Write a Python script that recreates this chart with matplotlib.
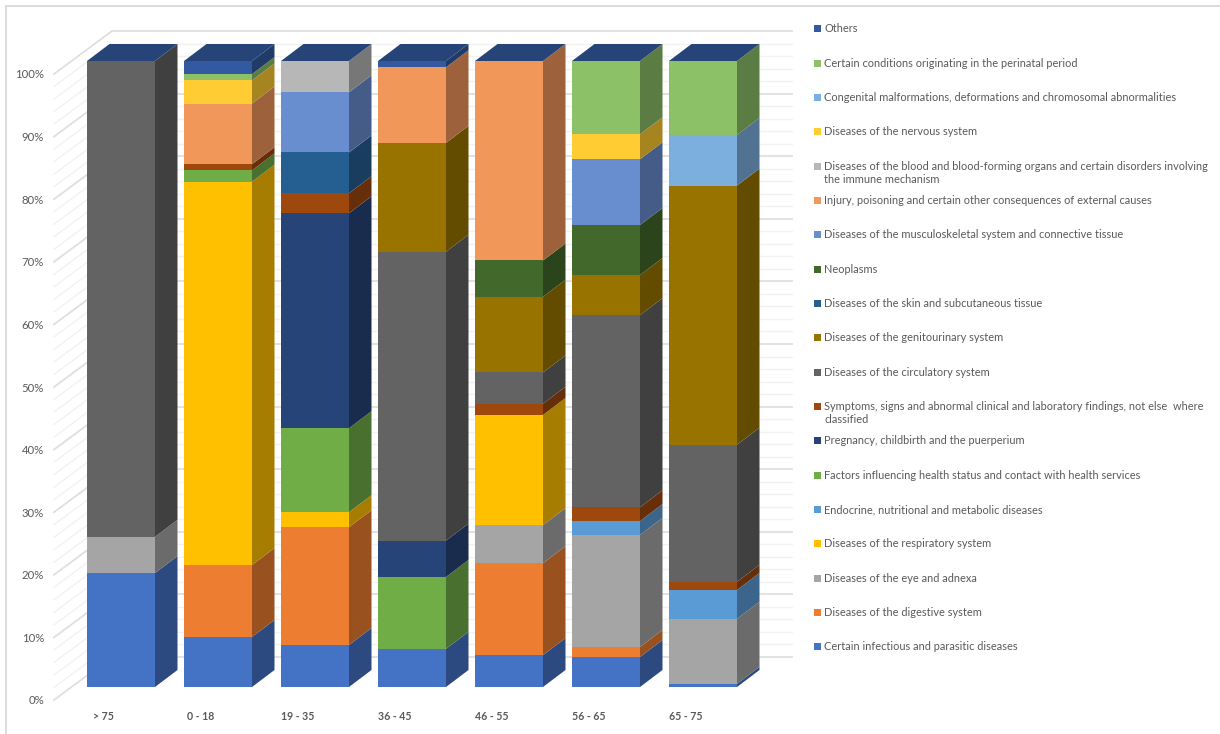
import matplotlib
matplotlib.use("Agg")
import matplotlib.pyplot as plt
from matplotlib.lines import Line2D
from matplotlib.patches import Patch, Polygon, Rectangle
from matplotlib.legend_handler import HandlerPatch
from matplotlib.transforms import ScaledTranslation
from matplotlib.colors import to_rgb

categories = ["> 75", "0 - 18", "19 - 35", "36 - 45", "46 - 55", "56 - 65", "65 - 75"]

infectious  = [18.2, 8.0, 6.7, 6.1, 5.1, 4.8, 0.5]
digestive   = [0, 11.5, 18.8, 0, 14.7, 1.6, 0]
eye         = [5.8, 0, 0, 0, 6.1, 17.9, 10.4]
respiratory = [0, 61.3, 2.4, 0, 17.6, 0, 0]
endocrine   = [0, 0, 0, 0, 0, 2.2, 4.6]
factors     = [0, 1.8, 13.4, 11.5, 0, 0, 0]
pregnancy   = [0, 0, 34.3, 5.8, 0, 0, 0]
symptoms    = [0, 1.0, 3.2, 0, 1.8, 2.2, 1.3]
circulatory = [76.0, 0, 0, 46.2, 5.0, 30.7, 21.9]
genito      = [0, 0, 0, 17.4, 12.1, 6.4, 41.4]
skin        = [0, 0, 6.5, 0, 0, 0, 0]
neoplasms   = [0, 0, 0, 0, 5.8, 8.0, 0]
musculo     = [0, 0, 9.6, 0, 0, 10.5, 0]
injury      = [0, 9.7, 0, 12.1, 31.9, 0, 0]
blood       = [0, 0, 5.0, 0, 0, 0, 0]
nervous     = [0, 3.7, 0, 0, 0, 4.0, 0]
congenital  = [0, 0, 0, 0, 0, 0, 8.1]
perinatal   = [0, 1.0, 0, 0, 0, 11.7, 11.8]
others      = [0, 2.1, 0, 1.0, 0, 0, 0]

series = [
    ("Certain infectious and parasitic diseases", infectious, "#4472C4"),
    ("Diseases of the digestive system", digestive, "#ED7D31"),
    ("Diseases of the eye and adnexa", eye, "#A5A5A5"),
    ("Diseases of the respiratory system", respiratory, "#FFC000"),
    ("Endocrine, nutritional and metabolic diseases", endocrine, "#5B9BD5"),
    ("Factors influencing health status and contact with health services", factors, "#70AD47"),
    ("Pregnancy, childbirth and the puerperium", pregnancy, "#264478"),
    ("Symptoms, signs and abnormal clinical and laboratory findings, not else  where\nclassified", symptoms, "#9E480E"),
    ("Diseases of the circulatory system", circulatory, "#636363"),
    ("Diseases of the genitourinary system", genito, "#997300"),
    ("Diseases of the skin and subcutaneous tissue", skin, "#255E91"),
    ("Neoplasms", neoplasms, "#43682B"),
    ("Diseases of the musculoskeletal system and connective tissue", musculo, "#698ED0"),
    ("Injury, poisoning and certain other consequences of external causes", injury, "#F1975A"),
    ("Diseases of the blood and blood-forming organs and certain disorders involving\nthe immune mechanism", blood, "#B7B7B7"),
    ("Diseases of the nervous system", nervous, "#FFCD33"),
    ("Congenital malformations, deformations and chromosomal abnormalities", congenital, "#7CAFDD"),
    ("Certain conditions originating in the perinatal period", perinatal, "#8CC168"),
    ("Others", others, "#335AA1"),
]

W, H = 1220, 734
TEXT = "#595959"
plt.rcParams["font.family"] = ["Lato", "DejaVu Sans"]

fig = plt.figure(figsize=(W / 100, H / 100), dpi=100, facecolor="white")
# axes box: y 0..100 maps to the front face of the bars
left_px, right_px, top_px, bottom_px = 49, 800, 61, 687
ax = fig.add_axes([left_px / W, 1 - bottom_px / H, (right_px - left_px) / W, (bottom_px - top_px) / H])
x_unit = 97.0
y_unit = (bottom_px - top_px) / 100.0
first_center = 121.0
ax.set_xlim((left_px - first_center) / x_unit, (right_px - first_center) / x_unit)
ax.set_ylim(0, 100)
ax.patch.set_alpha(0)
for s in ax.spines.values():
    s.set_visible(False)

bar_w = 68 / x_unit
dx, dy = 22.5 / x_unit, 17 / y_unit

# walls
wall_front_x = (54 - first_center) / x_unit
wall_back_x = (112 - first_center) / x_unit
wall_end_x = (792 - first_center) / x_unit
front_off = -13 / y_unit
back_off = 30 / y_unit
for v in range(0, 101, 2):
    major = v % 10 == 0
    col = "#DFDFDF" if major else "#F2F2F2"
    lw = 1.3 if major else 1.0
    ax.plot([wall_front_x, wall_back_x], [v + front_off, v + back_off], color=col, lw=lw, zorder=1 + major, clip_on=False)
    ax.plot([wall_back_x, wall_end_x], [v + back_off, v + back_off], color=col, lw=lw, zorder=1 + major, clip_on=False)


def shade(c, f=0.65):
    return tuple(f * i for i in to_rgb(c))


positions = list(range(len(categories)))
totals = [sum(s[1][i] for s in series) for i in positions]
bottoms = [0.0] * len(positions)
for name, values, color in series:
    heights = [100 * v / t for v, t in zip(values, totals)]
    ax.bar(positions, heights, bar_w, bottom=bottoms, color=color, zorder=5, linewidth=0, clip_on=False)
    for p, b, h in zip(positions, bottoms, heights):
        if h > 0:
            xr = p + bar_w / 2
            ax.add_patch(Polygon([(xr, b), (xr + dx, b + dy), (xr + dx, b + h + dy), (xr, b + h)],
                                 closed=True, facecolor=shade(color), edgecolor="none", zorder=5, clip_on=False))
    bottoms = [b + h for b, h in zip(bottoms, heights)]

for p, b in zip(positions, bottoms):
    xl, xr = p - bar_w / 2, p + bar_w / 2
    ax.add_patch(Polygon([(xl, b), (xr, b), (xr + dx, b + dy), (xl + dx, b + dy)],
                         closed=True, facecolor="#264478", edgecolor="none", zorder=6, clip_on=False))

# axis labels
ax.set_yticks(range(0, 101, 10))
ax.set_yticklabels([f"{v}%" for v in range(0, 101, 10)], fontsize=8.2, color=TEXT)
ax.set_xticks(positions)
ax.set_xticklabels(categories, fontsize=7.6, color=TEXT, fontweight="bold")
ax.tick_params(axis="both", length=0)
ax.tick_params(axis="y", pad=3.6)
ax.tick_params(axis="x", pad=17)
for lab in ax.get_yticklabels():
    lab.set_transform(lab.get_transform() + ScaledTranslation(0, -13 / 100, fig.dpi_scale_trans))
for lab in ax.get_xticklabels():
    lab.set_transform(lab.get_transform() + ScaledTranslation(-17.5 / 100, 0, fig.dpi_scale_trans))


# legend: every entry takes two lines so that first lines are evenly spaced
def first_line_square(legend, orig_handle, xdescent, ydescent, width, height, fontsize):
    return Rectangle((0, 5.6), 5.04, 5.04)


handles, labels = [], []
for name, values, color in reversed(series):
    handles.append(Patch(facecolor=color, edgecolor="none"))
    labels.append(name if "\n" in name else name + "\n ")
fs = 7.95
leg = ax.legend(handles, labels, loc="upper left", bbox_to_anchor=(814 / W, 1 - 23.5 / H),
                bbox_transform=fig.transFigure, frameon=False, fontsize=fs, borderpad=0, borderaxespad=0,
                handlelength=5.04 / fs, handletextpad=2.2 / fs, labelspacing=0.905, labelcolor=TEXT,
                handler_map={Patch: HandlerPatch(patch_func=first_line_square)})
for t in leg.get_texts():
    t.set_linespacing(1.26)

# chart frame, partly outside the picture
frame = "#DCDCDC"
fig.add_artist(Line2D([6 / W, 6 / W], [0, 1 - 6 / H], color=frame, lw=1.4))
fig.add_artist(Line2D([6 / W, 1], [1 - 6 / H, 1 - 6 / H], color=frame, lw=1.4))

fig.savefig("out.png", dpi=100, facecolor="white")
